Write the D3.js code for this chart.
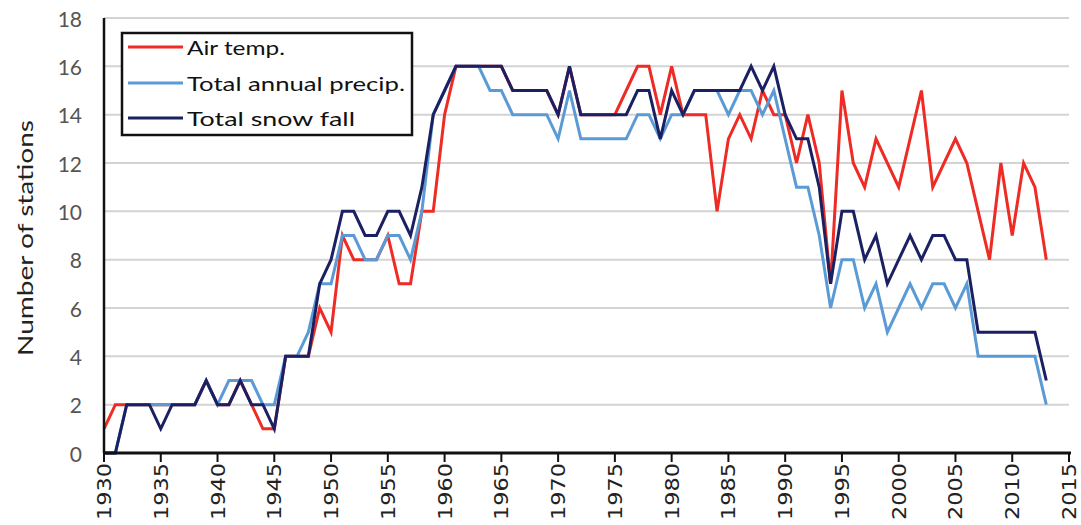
<!DOCTYPE html>
<html>
<head>
<meta charset="utf-8">
<script src="https://cdn.jsdelivr.net/npm/d3@7"></script>
<style>
  html, body { margin: 0; padding: 0; background: #fff; }
  svg { display: block; }
</style>
</head>
<body>
<svg id="chart" width="1081" height="525"></svg>
<script>
const years = [1930,1931,1932,1933,1934,1935,1936,1937,1938,1939,
  1940,1941,1942,1943,1944,1945,1946,1947,1948,1949,
  1950,1951,1952,1953,1954,1955,1956,1957,1958,1959,
  1960,1961,1962,1963,1964,1965,1966,1967,1968,1969,
  1970,1971,1972,1973,1974,1975,1976,1977,1978,1979,
  1980,1981,1982,1983,1984,1985,1986,1987,1988,1989,
  1990,1991,1992,1993,1994,1995,1996,1997,1998,1999,
  2000,2001,2002,2003,2004,2005,2006,2007,2008,2009,
  2010,2011,2012,2013];

const airTemp = [1,2,2,2,2,2,2,2,2,3,
  2,2,3,2,1,1,4,4,4,6,
  5,9,8,8,8,9,7,7,10,10,
  14,16,16,16,16,16,15,15,15,15,
  14,16,14,14,14,14,15,16,16,14,
  16,14,14,14,10,13,14,13,15,14,
  14,12,14,12,7,15,12,11,13,12,
  11,13,15,11,12,13,12,10,8,12,
  9,12,11,8];

const precip = [0,0,2,2,2,2,2,2,2,3,
  2,3,3,3,2,2,4,4,5,7,
  7,9,9,8,8,9,9,8,10,14,
  15,16,16,16,15,15,14,14,14,14,
  13,15,13,13,13,13,13,14,14,13,
  14,14,15,15,15,14,15,15,14,15,
  13,11,11,9,6,8,8,6,7,5,
  6,7,6,7,7,6,7,4,4,4,
  4,4,4,2];

const snowFall = [0,0,2,2,2,1,2,2,2,3,
  2,2,3,2,2,1,4,4,4,7,
  8,10,10,9,9,10,10,9,11,14,
  15,16,16,16,16,16,15,15,15,15,
  14,16,14,14,14,14,14,15,15,13,
  15,14,15,15,15,15,15,16,15,16,
  14,13,13,11,7,10,10,8,9,7,
  8,9,8,9,9,8,8,5,5,5,
  5,5,5,3];

const seriesNames = ["Air temp.", "Total annual precip.", "Total snow fall"];
const seriesColors = ["#ee2b24", "#5b9bd5", "#1b2062"];
const xTicks = [1930,1935,1940,1945,1950,1955,1960,1965,1970,1975,1980,1985,1990,1995,2000,2005,2010,2015];
const yTicks = [0,2,4,6,8,10,12,14,16,18];
const yTitle = "Number of stations";

const svg = d3.select("#chart");
const x = d3.scaleLinear().domain([1930, 2015]).range([104, 1069]);
const y = d3.scaleLinear().domain([0, 18]).range([453, 18]);

// gridlines
svg.append("g").selectAll("line").data(yTicks.filter(d => d > 0)).join("line")
  .attr("x1", x(1930)).attr("x2", x(2015))
  .attr("y1", d => y(d)).attr("y2", d => y(d))
  .attr("stroke", "#d3d3d3").attr("stroke-width", 2);

// y tick labels
svg.append("g").selectAll("text").data(yTicks).join("text")
  .attr("x", 82).attr("y", d => y(d))
  .attr("text-anchor", "end").attr("dominant-baseline", "central")
  .attr("font-family", "Lato, 'Open Sans', sans-serif").attr("font-size", 21)
  .attr("fill", "#555")
  .text(d => d);

// y title
svg.append("text")
  .attr("transform", `translate(24,${238}) rotate(-90)`)
  .attr("text-anchor", "middle").attr("dominant-baseline", "central")
  .attr("font-family", "Lato, 'Open Sans', sans-serif").attr("font-size", 21)
  .attr("textLength", 236).attr("lengthAdjust", "spacingAndGlyphs")
  .attr("fill", "#222")
  .text(yTitle);

// series lines
const series = [airTemp, precip, snowFall];
const line = d3.line().x((d, i) => x(years[i])).y(d => y(d));
svg.append("g").selectAll("path").data(series).join("path")
  .attr("d", d => line(d))
  .attr("fill", "none")
  .attr("stroke", (d, i) => seriesColors[i])
  .attr("stroke-width", 3)
  .attr("stroke-linejoin", "miter");

// axes
svg.append("line").attr("x1", x(1930)).attr("x2", x(1930)).attr("y1", y(18)).attr("y2", y(0))
  .attr("stroke", "#111").attr("stroke-width", 2.5);
svg.append("line").attr("x1", x(1930) - 1).attr("x2", x(2015) + 2).attr("y1", y(0)).attr("y2", y(0))
  .attr("stroke", "#111").attr("stroke-width", 3);
svg.append("g").selectAll("line").data(xTicks).join("line")
  .attr("x1", d => x(d)).attr("x2", d => x(d))
  .attr("y1", y(0)).attr("y2", y(0) + 9)
  .attr("stroke", "#111").attr("stroke-width", 2);

// x labels
svg.append("g").selectAll("text").data(xTicks).join("text")
  .attr("transform", d => `translate(${x(d)},${463}) rotate(-90)`)
  .attr("text-anchor", "end").attr("dominant-baseline", "central")
  .attr("font-family", "'DejaVu Sans', Verdana, sans-serif").attr("font-size", 20)
  .attr("textLength", 57).attr("lengthAdjust", "spacingAndGlyphs")
  .attr("fill", "#222")
  .text(d => d);

// legend
const lg = svg.append("g");
lg.append("rect").attr("x", 122).attr("y", 33).attr("width", 290).attr("height", 102)
  .attr("fill", "#fff").attr("stroke", "#111").attr("stroke-width", 2.5);
const legendY = [47, 83, 118];
const legendW = [98, 218, 168];
seriesNames.forEach((name, i) => {
  lg.append("line").attr("x1", 128).attr("x2", 183).attr("y1", legendY[i]).attr("y2", legendY[i])
    .attr("stroke", seriesColors[i]).attr("stroke-width", 3);
  lg.append("text").attr("x", 187).attr("y", legendY[i])
    .attr("dominant-baseline", "central")
    .attr("font-family", "Lato, 'Open Sans', sans-serif").attr("font-size", 20)
    .attr("textLength", legendW[i]).attr("lengthAdjust", "spacingAndGlyphs")
    .attr("fill", "#111")
    .text(name);
});
</script>
</body>
</html>
